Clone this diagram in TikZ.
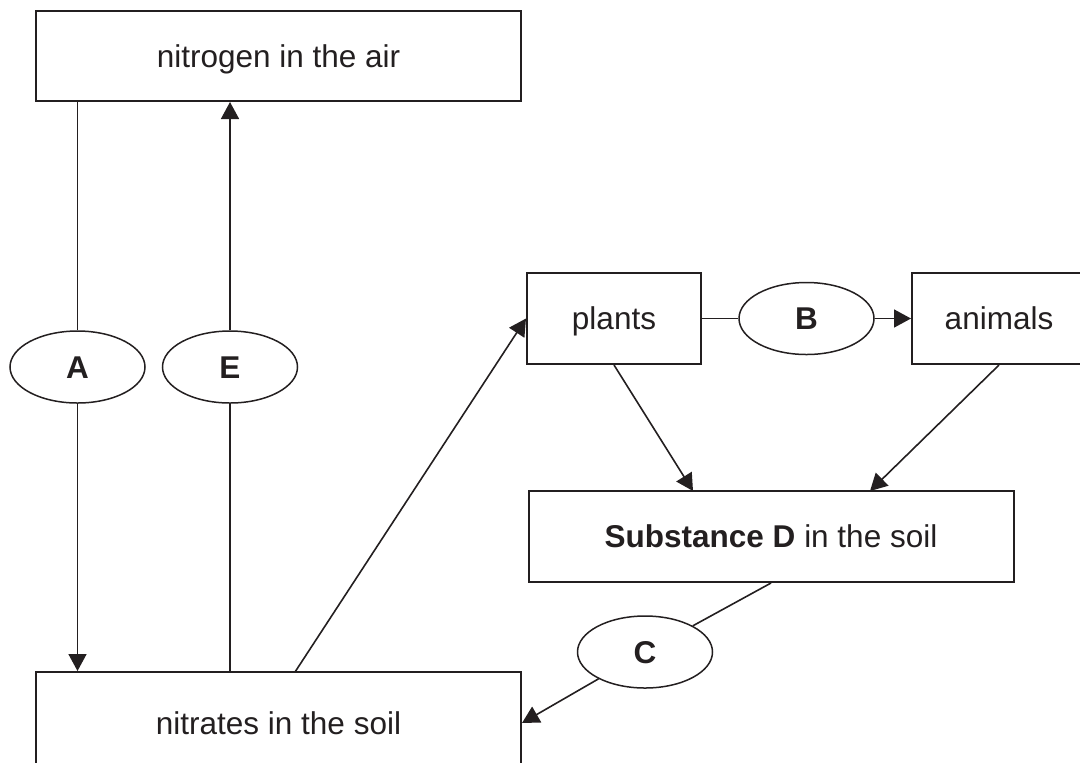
\documentclass[tikz,border=0pt]{standalone}
\usepackage{fontspec}
\setmainfont{Liberation Sans}
\usetikzlibrary{shapes.geometric,arrows.meta}
\definecolor{ink}{RGB}{35,31,32}
\begin{document}
\begin{tikzpicture}[x=.5pt,y=-.5pt,
	box/.style={draw=ink,line width=1pt,inner sep=0pt,minimum width=242.5pt,minimum height=45pt,text=ink,text height=11.3pt,text depth=0pt,font=\fontsize{15.75}{19}\selectfont},
	smallbox/.style={box,minimum width=87pt,minimum height=45.5pt},
	tag/.style={ellipse,draw=ink,line width=.75pt,inner sep=0pt,minimum width=67.5pt,minimum height=36pt,text=ink,text height=11.3pt,text depth=0pt,font=\fontsize{15.75}{19}\selectfont\bfseries},
	link/.style={draw=ink,line width=.8pt},
	arr/.style={link,-{Triangle[length=8.5pt,width=9pt]}}]
	\useasboundingbox (0,0) rectangle (1080,762);
	\clip (0,0) rectangle (1080,762);
	\node[box] (air) at (278.5,56) {nitrogen in the air};
	\node[box,minimum height=51pt] (nitrates) at (278.5,723) {nitrates in the soil};
	\node[smallbox] (plants) at (614,318.5) {plants};
	\node[smallbox] (animals) at (999,318.5) {animals};
	\node[box,minimum height=45.5pt] (subst) at (771,536.5) {\textbf{Substance D} in the soil};
	\node[tag] (A) at (77.5,367) {A};
	\node[tag] (E) at (230,367) {E};
	\node[tag] (B) at (806.5,318.5) {B};
	\node[tag] (C) at (645,652) {C};
	\coordinate (toplants) at (295,672);
	\coordinate (pd) at (693,491);
	\coordinate (ad) at (870,491);
	\draw[link] (air.south -| A) -- (A);
	\draw[arr] (A) -- (nitrates.north -| A);
	\draw[link] (nitrates.north -| E) -- (E);
	\draw[arr] (E) -- (air.south -| E);
	\draw[arr] (toplants) -- (plants.west);
	\draw[link] (plants) -- (B);
	\draw[arr] (B) -- (animals);
	\draw[arr] (plants.south) -- (pd);
	\draw[arr] (animals.south) -- (ad);
	\draw[link] (subst.south) -- (C);
	\draw[arr] (C) -- (nitrates.east);
\end{tikzpicture}
\end{document}
